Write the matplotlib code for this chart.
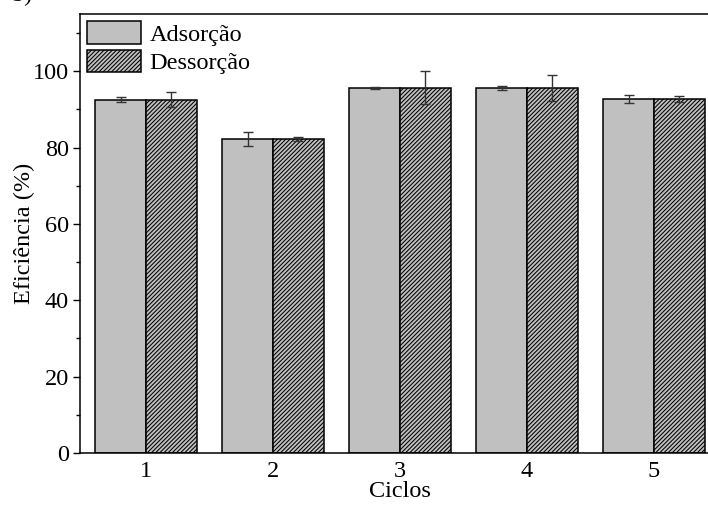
import matplotlib
matplotlib.use("Agg")
import matplotlib.pyplot as plt
import numpy as np
from matplotlib.ticker import MultipleLocator

plt.rcParams["font.family"] = "Liberation Serif"
plt.rcParams["hatch.color"] = "#2a2a2a"
plt.rcParams["hatch.linewidth"] = 0.75

ciclos = ["1", "2", "3", "4", "5"]
adsorcao = [92.6, 82.2, 95.7, 95.7, 92.8]
adsorcao_err = [0.6, 1.8, 0.3, 0.5, 1.1]
dessorcao = [92.6, 82.2, 95.7, 95.7, 92.8]
dessorcao_err = [2.0, 0.45, 4.4, 3.4, 0.75]

FS = 17.5

fig = plt.figure(figsize=(7.08, 5.07), dpi=100)
ax = fig.add_axes([80 / 708, 1 - 453 / 507, 640 / 708, (453 - 14) / 507])

x = np.arange(1, len(ciclos) + 1)
w = 0.4
err_kw = dict(ecolor="#333333", elinewidth=1.0, capsize=3.5, capthick=1.0)

ax.bar(x - w / 2, adsorcao, w, yerr=adsorcao_err, color="#c0c0c0",
       edgecolor="black", linewidth=1.1, label="Adsorção", error_kw=err_kw)
ax.bar(x + w / 2, dessorcao, w, yerr=dessorcao_err, color="#c0c0c0",
       edgecolor="black", linewidth=1.1, hatch="////////", label="Dessorção",
       error_kw=err_kw)

ax.set_xlim(0.48, 5.52)
ax.set_ylim(0, 115)
ax.set_xticks(x)
ax.set_xticklabels(ciclos)
ax.xaxis.set_minor_locator(MultipleLocator(0.5))
ax.yaxis.set_major_locator(MultipleLocator(20))
ax.yaxis.set_minor_locator(MultipleLocator(10))

ax.tick_params(axis="y", which="major", direction="out", length=5, width=1,
               labelsize=FS, pad=3)
ax.tick_params(axis="y", which="minor", direction="out", length=3, width=1)
ax.tick_params(axis="x", which="both", length=0, labelsize=FS, pad=6)

for s in ax.spines.values():
    s.set_linewidth(1.1)

ax.set_xlabel("Ciclos", fontsize=FS, labelpad=-1)
ax.set_ylabel("Eficiência (%)", fontsize=FS)
ax.yaxis.set_label_coords(-0.07, 0.5)

leg = ax.legend(loc="upper left", frameon=False, fontsize=FS,
                handlelength=2.2, handleheight=1.05, handletextpad=0.35,
                labelspacing=0.15, borderaxespad=0.1, borderpad=0.2)

fig.text(12 / 708, 1 - 1 / 507, "b)", fontsize=FS, va="baseline", ha="left")

fig.savefig("out.png", dpi=100)
